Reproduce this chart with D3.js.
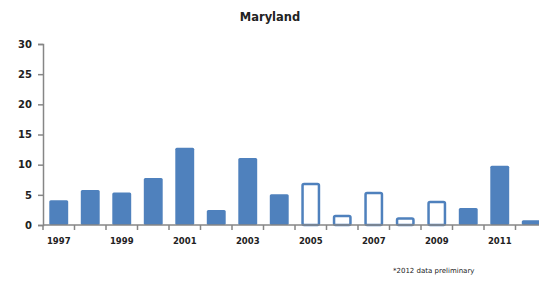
<!DOCTYPE html>
<html><head><meta charset="utf-8">
<script src="https://cdn.jsdelivr.net/npm/d3@7"></script>
<style>body{margin:0;background:#fff;}svg{display:block;}</style>
</head><body>
<script>
const years = ["1997","1998","1999","2000","2001","2002","2003","2004","2005","2006","2007","2008","2009","2010","2011","2012"];
const values = [4.1,5.8,5.4,7.8,12.8,2.5,11.1,5.1,7.0,1.7,5.5,1.3,4.0,2.8,9.8,0.8];
const hollow = [false,false,false,false,false,false,false,false,true,true,true,true,true,false,false,false];
const yTicks = [0,5,10,15,20,25,30];
const xLabels = ["1997","1999","2001","2003","2005","2007","2009","2011"];
const title = "Maryland";
const note = "*2012 data preliminary";

const W = 539, H = 284;
const svg = d3.select("body").append("svg").attr("width", W).attr("height", H);
const x0 = 43, bandW = 31.5;
const x = d3.scaleBand().domain(years).range([x0, x0 + bandW*years.length]).paddingInner(0.4).paddingOuter(0.2);
const y = d3.scaleLinear().domain([0,30]).range([225,44]);
const blue = "#4F81BD", grey = "#868686";

svg.append("text").attr("x", 270).attr("y", 21).attr("text-anchor","middle")
  .attr("font-family","DejaVu Sans, sans-serif").attr("font-weight","bold").attr("font-size",11.5).attr("fill","#222").text(title);

// y axis
const ya = svg.append("g").attr("transform",`translate(${x0},0)`)
  .call(d3.axisLeft(y).tickValues(yTicks).tickSize(5).tickPadding(6));
ya.select(".domain").attr("stroke",grey).attr("stroke-width",1.5);
ya.selectAll(".tick line").attr("stroke",grey).attr("stroke-width",1.5);
ya.selectAll("text").attr("font-family","DejaVu Sans, sans-serif").attr("font-weight","bold").attr("font-size",10).attr("fill","#222");

// bars
svg.append("g").selectAll("rect").data(years).join("rect")
  .attr("x", (d,i)=> x(d) + (hollow[i]?1.25:0))
  .attr("y", (d,i)=> y(values[i]) + (hollow[i]?1.25:0))
  .attr("width", (d,i)=> x.bandwidth() - (hollow[i]?2.5:0))
  .attr("height", (d,i)=> y(0)-y(values[i]) - (hollow[i]?1.25:0))
  .attr("rx",1.5)
  .attr("fill",(d,i)=> hollow[i] ? "#fff" : blue)
  .attr("stroke",(d,i)=> hollow[i] ? blue : "none")
  .attr("stroke-width",2.5);

// x axis
const xb = svg.append("g").attr("transform",`translate(0,${y(0)})`);
xb.append("line").attr("x1",x0).attr("x2",W).attr("stroke",grey).attr("stroke-width",1.5);
xb.selectAll(".tk").data(d3.range(years.length)).join("line")
  .attr("x1",i=>x0+bandW*i).attr("x2",i=>x0+bandW*i).attr("y1",0).attr("y2",5)
  .attr("stroke",grey).attr("stroke-width",1.5);
xb.selectAll("text").data(xLabels).join("text")
  .attr("x",d=>x(d)+x.bandwidth()/2).attr("y",19).attr("text-anchor","middle")
  .attr("font-family","DejaVu Sans, sans-serif").attr("font-weight","bold").attr("font-size",8.5).attr("fill","#222").text(d=>d);

svg.append("text").attr("x",393).attr("y",273).attr("font-family","DejaVu Sans, sans-serif").attr("font-size",7).attr("fill","#222").text(note);
</script>
</body></html>
